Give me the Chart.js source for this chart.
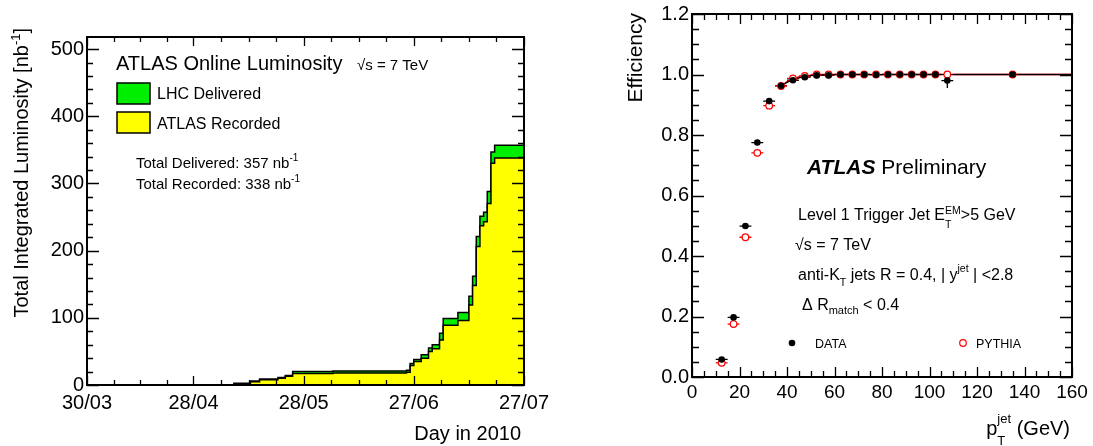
<!DOCTYPE html>
<html>
<head>
<meta charset="utf-8">
<title>ATLAS online luminosity and L1 jet trigger efficiency</title>
<script src="https://cdn.jsdelivr.net/npm/chart.js@4.4.1/dist/chart.umd.min.js"></script>
<style>
  body { margin: 0; background: #fff; }
  #page { position: relative; width: 1093px; height: 446px; overflow: hidden; }
  #lumiChart { position: absolute; left: 0; top: 0; }
  #effChart { position: absolute; left: 580px; top: 0; }
</style>
</head>
<body>
<div id="page">
  <canvas id="lumiChart" width="580" height="446"></canvas>
  <canvas id="effChart" width="513" height="446"></canvas>
</div>
<script>
// ---- left panel: integrated luminosity, days counted from 30/03 ----
let lumiDays      = [0,   40,  44.5, 47, 52, 54, 56, 67, 87, 88, 89, 91, 93, 94, 96, 97, 101, 104, 105, 106, 107, 108, 109, 110, 111, 119];
let lumiDelivered = [0.5, 2.5, 6,    9,  11, 14, 20, 21, 22, 32, 38, 45, 55, 60, 77, 99, 108, 132, 162, 221, 251, 257, 288, 347, 357, 357];
let lumiRecorded  = [0.3, 1.5, 5,    8,  10, 13, 17, 18, 19, 29, 35, 40, 50, 54, 67, 89, 96,  119, 148, 206, 237, 243, 270, 330, 338, 338];
let dayTickValues = [0, 29, 59, 89, 119];
let dayTickLabels = ['30/03', '28/04', '28/05', '27/06', '27/07'];

// ---- right panel: L1 jet trigger efficiency vs jet pT ----
let ptBins      = [12.5, 17.5, 22.5, 27.5, 32.5, 37.5, 42.5, 47.5, 52.5, 57.5, 62.5, 67.5, 72.5, 77.5, 82.5, 87.5, 92.5, 97.5, 102.5, 107.5, 135];
let ptHalfWidth = [2.5, 2.5, 2.5, 2.5, 2.5, 2.5, 2.5, 2.5, 2.5, 2.5, 2.5, 2.5, 2.5, 2.5, 2.5, 2.5, 2.5, 2.5, 2.5, 2.5, 25];
let dataEff     = [0.058, 0.197, 0.499, 0.775, 0.912, 0.963, 0.981, 0.991, 0.997, 0.997, 1.0, 1.0, 1.0, 0.999, 1.0, 1.0, 1.0, 1.0, 1.0, 0.980, 1.0];
let dataErrLo   = [0.004, 0.006, 0.006, 0.005, 0.004, 0.003, 0.003, 0.002, 0.002, 0.002, 0.001, 0.001, 0.001, 0.002, 0.001, 0.001, 0.001, 0.001, 0.001, 0.025, 0.002];
let dataErrHi   = [0.004, 0.006, 0.006, 0.005, 0.004, 0.003, 0.003, 0.002, 0.002, 0.002, 0.0, 0.0, 0.0, 0.001, 0.0, 0.0, 0.0, 0.0, 0.0, 0.010, 0.0];
let pythiaEff   = [0.047, 0.175, 0.462, 0.741, 0.897, 0.962, 0.987, 0.995, 1.0, 1.0, 1.0, 1.0, 1.0, 1.0, 1.0, 1.0, 1.0, 1.0, 1.0, 1.0, 1.0];
let pythiaErr   = [0.002, 0.003, 0.003, 0.003, 0.002, 0.002, 0.001, 0.001, 0.0, 0.0, 0.0, 0.0, 0.0, 0.0, 0.0, 0.0, 0.0, 0.0, 0.0, 0.0, 0.0];
let fitPt       = [37.5, 40, 42.5, 45, 47.5, 50, 55, 60, 65, 160];
let dataFit     = [0.962, 0.974, 0.983, 0.989, 0.993, 0.996, 0.999, 1.0, 1.0, 1.0];
let pythiaFit   = [0.962, 0.977, 0.987, 0.992, 0.995, 0.997, 0.999, 1.0, 1.0, 1.0];

const FONT = "'Liberation Sans', Arial, Helvetica, sans-serif";
Chart.defaults.font.family = FONT;
Chart.defaults.color = '#000';

function run(t, size, dy, style, stack) {
  return { t: t, size: size, dy: dy || 0, style: style || '', stack: !!stack };
}

// draws text pieces one after another; stacked pieces share the x of the previous one (sub + sup)
function drawRich(ctx, x, y, runs, align) {
  let pos = [], cx = 0, prevStart = 0, prevW = 0;
  runs.forEach(r => {
    ctx.font = r.style + ' ' + r.size + 'px ' + FONT;
    let w = ctx.measureText(r.t).width;
    if (r.stack) {
      pos.push(prevStart);
      prevW = Math.max(prevW, w);
      cx = prevStart + prevW;
    } else {
      pos.push(cx);
      prevStart = cx;
      prevW = w;
      cx += w;
    }
  });
  let x0 = align === 'right' ? x - cx : align === 'center' ? x - cx / 2 : x;
  runs.forEach((r, i) => {
    ctx.font = r.style + ' ' + r.size + 'px ' + FONT;
    ctx.fillText(r.t, x0 + pos[i], y + r.dy);
  });
}

function tickSet(scale, nDiv) {
  let vals = scale.ticks.map(t => t.value);
  let minor = [];
  for (let i = 0; i < vals.length - 1; i++) {
    let step = (vals[i + 1] - vals[i]) / nDiv;
    for (let k = 1; k < nDiv; k++) minor.push(vals[i] + k * step);
  }
  let lastStep = (vals[vals.length - 1] - vals[vals.length - 2]) / nDiv;
  for (let v = vals[vals.length - 1] + lastStep; v <= scale.max + 1e-9; v += lastStep) minor.push(v);
  return { major: vals, minor: minor };
}

// ROOT style frame with inward ticks on all four sides
const rootFrame = {
  id: 'rootFrame',
  afterDatasetsDraw(chart, args, opts) {
    let ctx = chart.ctx, a = chart.chartArea;
    let xs = tickSet(chart.scales.x, opts.xDiv);
    let ys = tickSet(chart.scales.y, opts.yDiv);
    ctx.save();
    ctx.strokeStyle = '#000';
    ctx.lineWidth = 1.3;
    ctx.beginPath();
    [[xs.major, opts.xMajor], [xs.minor, opts.xMinor]].forEach(([vals, len]) => {
      vals.forEach(v => {
        let px = Math.round(chart.scales.x.getPixelForValue(v)) + 0.5;
        ctx.moveTo(px, a.bottom); ctx.lineTo(px, a.bottom - len);
        ctx.moveTo(px, a.top); ctx.lineTo(px, a.top + len);
      });
    });
    [[ys.major, opts.yMajor], [ys.minor, opts.yMinor]].forEach(([vals, len]) => {
      vals.forEach(v => {
        let py = Math.round(chart.scales.y.getPixelForValue(v)) + 0.5;
        ctx.moveTo(a.left, py); ctx.lineTo(a.left + len, py);
        ctx.moveTo(a.right, py); ctx.lineTo(a.right - len, py);
      });
    });
    ctx.stroke();
    ctx.lineWidth = 2;
    ctx.strokeRect(a.left, a.top, a.right - a.left, a.bottom - a.top);
    ctx.restore();
  }
};

const errorBars = {
  id: 'errorBars',
  beforeDatasetsDraw(chart) {
    let ctx = chart.ctx, a = chart.chartArea;
    let xS = chart.scales.x, yS = chart.scales.y;
    ctx.save();
    ctx.beginPath();
    ctx.rect(a.left, a.top, a.right - a.left, a.bottom - a.top);
    ctx.clip();
    chart.data.datasets.forEach(ds => {
      if (!ds.xErr) return;
      ctx.strokeStyle = ds.borderColor;
      ctx.lineWidth = 1.3;
      ctx.beginPath();
      ds.data.forEach((p, j) => {
        let px = xS.getPixelForValue(p.x), py = yS.getPixelForValue(p.y);
        ctx.moveTo(xS.getPixelForValue(p.x - ds.xErr[j]), py);
        ctx.lineTo(xS.getPixelForValue(p.x + ds.xErr[j]), py);
        ctx.moveTo(px, yS.getPixelForValue(p.y - ds.yErrLo[j]));
        ctx.lineTo(px, yS.getPixelForValue(p.y + ds.yErrHi[j]));
      });
      ctx.stroke();
    });
    ctx.restore();
  }
};

const lumiLabels = {
  id: 'lumiLabels',
  afterDraw(chart) {
    let ctx = chart.ctx;
    let rec = chart.data.datasets[0], del = chart.data.datasets[1];
    ctx.save();
    ctx.fillStyle = '#000';
    ctx.textAlign = 'left';
    ctx.textBaseline = 'alphabetic';
    drawRich(ctx, 116, 70, [run('ATLAS Online Luminosity', 20)]);
    drawRich(ctx, 357, 70, [run('\u221As = 7 TeV', 15)]);

    ctx.lineWidth = 1.5;
    ctx.strokeStyle = '#000';
    ctx.fillStyle = del.backgroundColor;
    ctx.fillRect(117, 83, 33, 21); ctx.strokeRect(117, 83, 33, 21);
    ctx.fillStyle = rec.backgroundColor;
    ctx.fillRect(117, 112, 33, 21); ctx.strokeRect(117, 112, 33, 21);
    ctx.fillStyle = '#000';
    drawRich(ctx, 157, 99, [run(del.label, 16)]);
    drawRich(ctx, 157, 129, [run(rec.label, 16)]);

    let totDel = lumiDelivered[lumiDelivered.length - 1];
    let totRec = lumiRecorded[lumiRecorded.length - 1];
    drawRich(ctx, 136, 168, [run('Total Delivered: ' + totDel + ' nb', 15), run('-1', 10, -7)]);
    drawRich(ctx, 136, 189, [run('Total Recorded: ' + totRec + ' nb', 15), run('-1', 10, -7)]);

    drawRich(ctx, 521, 440, [run('Day in 2010', 20)], 'right');

    ctx.translate(28, 28);
    ctx.rotate(-Math.PI / 2);
    drawRich(ctx, 0, 0, [run('Total Integrated Luminosity [nb', 20), run('-1', 13, -8), run(']', 20)], 'right');
    ctx.restore();
  }
};

const effLabels = {
  id: 'effLabels',
  afterDraw(chart) {
    let ctx = chart.ctx;
    let data = chart.data.datasets[0], pythia = chart.data.datasets[1];
    ctx.save();
    ctx.fillStyle = '#000';
    ctx.textAlign = 'left';
    ctx.textBaseline = 'alphabetic';

    drawRich(ctx, 227, 174, [run('ATLAS', 21, 0, 'italic bold'), run(' Preliminary', 21)]);
    drawRich(ctx, 218, 219.5, [run('Level 1 Trigger Jet E', 16), run('T', 10.5, 8), run('EM', 10.5, -6, '', true), run('>5 GeV', 16)]);
    drawRich(ctx, 215, 249.5, [run('\u221As = 7 TeV', 16)]);
    drawRich(ctx, 218, 279.5, [run('anti-K', 16), run('T', 10.5, 6), run(' jets R = 0.4, | y', 16), run('jet', 10.5, -7.5), run(' | <2.8', 16)]);
    drawRich(ctx, 222, 310, [run('\u0394 R', 16), run('match', 11, 4), run(' < 0.4', 16)]);

    // legend markers
    ctx.beginPath();
    ctx.arc(212, 343, data.pointRadius, 0, Math.PI * 2);
    ctx.fillStyle = data.backgroundColor;
    ctx.fill();
    ctx.beginPath();
    ctx.arc(383, 343, pythia.pointRadius, 0, Math.PI * 2);
    ctx.fillStyle = pythia.backgroundColor;
    ctx.fill();
    ctx.lineWidth = pythia.borderWidth;
    ctx.strokeStyle = pythia.borderColor;
    ctx.stroke();
    ctx.fillStyle = '#000';
    drawRich(ctx, 235, 347.5, [run(data.label, 12.5)]);
    drawRich(ctx, 396, 347.5, [run(pythia.label, 12.5)]);

    drawRich(ctx, 490, 435, [run('p', 20), run('T', 13, 10), run('jet', 13, -12, '', true), run(' (GeV)', 20)], 'right');

    ctx.translate(62, 13);
    ctx.rotate(-Math.PI / 2);
    drawRich(ctx, 0, 0, [run('Efficiency', 21)], 'right');
    ctx.restore();
  }
};

let lumiChart = new Chart(document.getElementById('lumiChart'), {
  type: 'line',
  data: {
    datasets: [{
      label: 'ATLAS Recorded',
      data: lumiDays.map((d, i) => ({ x: d, y: lumiRecorded[i] })),
      stepped: true,
      fill: 'origin',
      backgroundColor: '#ffff00',
      borderColor: '#000',
      borderWidth: 1.5,
      pointRadius: 0,
      order: 0
    }, {
      label: 'LHC Delivered',
      data: lumiDays.map((d, i) => ({ x: d, y: lumiDelivered[i] })),
      stepped: true,
      fill: 'origin',
      backgroundColor: '#00ee00',
      borderColor: '#000',
      borderWidth: 1.5,
      pointRadius: 0,
      order: 1
    }]
  },
  options: {
    responsive: false,
    animation: false,
    layout: { padding: { left: 0, top: 37, right: 56, bottom: 0 } },
    plugins: {
      legend: { display: false },
      tooltip: { enabled: false },
      rootFrame: { xDiv: 4, yDiv: 5, xMajor: 9, xMinor: 5, yMajor: 12, yMinor: 6 }
    },
    scales: {
      x: {
        type: 'linear',
        min: 0,
        max: 119,
        grid: { display: false, drawTicks: false },
        border: { display: false },
        afterBuildTicks: s => { s.ticks = dayTickValues.map(v => ({ value: v })); },
        ticks: {
          autoSkip: false,
          maxRotation: 0,
          padding: 6,
          font: { size: 20 },
          callback: v => dayTickLabels[dayTickValues.indexOf(v)]
        },
        afterFit: s => { s.height = 61; s.paddingLeft = 0; s.paddingRight = 0; }
      },
      y: {
        min: 0,
        max: 518,
        grid: { display: false, drawTicks: false },
        border: { display: false },
        ticks: { stepSize: 100, includeBounds: false, padding: 3, font: { size: 20 } },
        afterFit: s => { s.width = 87; s.paddingTop = 0; s.paddingBottom = 0; }
      }
    }
  },
  plugins: [rootFrame, lumiLabels]
});

let effChart = new Chart(document.getElementById('effChart'), {
  type: 'scatter',
  data: {
    datasets: [{
      label: 'DATA',
      data: ptBins.map((x, i) => ({ x: x, y: dataEff[i] })),
      xErr: ptHalfWidth,
      yErrLo: dataErrLo,
      yErrHi: dataErrHi,
      pointRadius: 3.3,
      pointBorderWidth: 0,
      borderWidth: 0,
      backgroundColor: '#000',
      borderColor: '#000',
      order: 0
    }, {
      label: 'PYTHIA',
      data: ptBins.map((x, i) => ({ x: x, y: pythiaEff[i] })),
      xErr: ptHalfWidth,
      yErrLo: pythiaErr,
      yErrHi: pythiaErr,
      pointRadius: 3.3,
      borderWidth: 1.2,
      backgroundColor: '#ffffff',
      borderColor: '#ff0000',
      order: 1
    }, {
      label: 'DATA fit',
      data: fitPt.map((x, i) => ({ x: x, y: dataFit[i] })),
      showLine: true,
      pointRadius: 0,
      borderWidth: 1.2,
      borderColor: '#000',
      order: 2
    }, {
      label: 'PYTHIA fit',
      data: fitPt.map((x, i) => ({ x: x, y: pythiaFit[i] })),
      showLine: true,
      pointRadius: 0,
      borderWidth: 1.2,
      borderColor: '#ff0000',
      order: 3
    }]
  },
  options: {
    responsive: false,
    animation: false,
    layout: { padding: { left: 0, top: 14, right: 21, bottom: 0 } },
    plugins: {
      legend: { display: false },
      tooltip: { enabled: false },
      rootFrame: { xDiv: 4, yDiv: 4, xMajor: 10, xMinor: 6, yMajor: 12, yMinor: 7 }
    },
    scales: {
      x: {
        type: 'linear',
        min: 0,
        max: 160,
        grid: { display: false, drawTicks: false },
        border: { display: false },
        ticks: { stepSize: 20, autoSkip: false, maxRotation: 0, padding: 4, font: { size: 19 } },
        afterFit: s => { s.height = 69; s.paddingLeft = 0; s.paddingRight = 0; }
      },
      y: {
        min: 0,
        max: 1.2,
        grid: { display: false, drawTicks: false },
        border: { display: false },
        ticks: { stepSize: 0.2, padding: 3, font: { size: 20 }, callback: v => v.toFixed(1) },
        afterFit: s => { s.width = 112; s.paddingTop = 0; s.paddingBottom = 0; }
      }
    }
  },
  plugins: [errorBars, rootFrame, effLabels]
});
</script>
</body>
</html>
